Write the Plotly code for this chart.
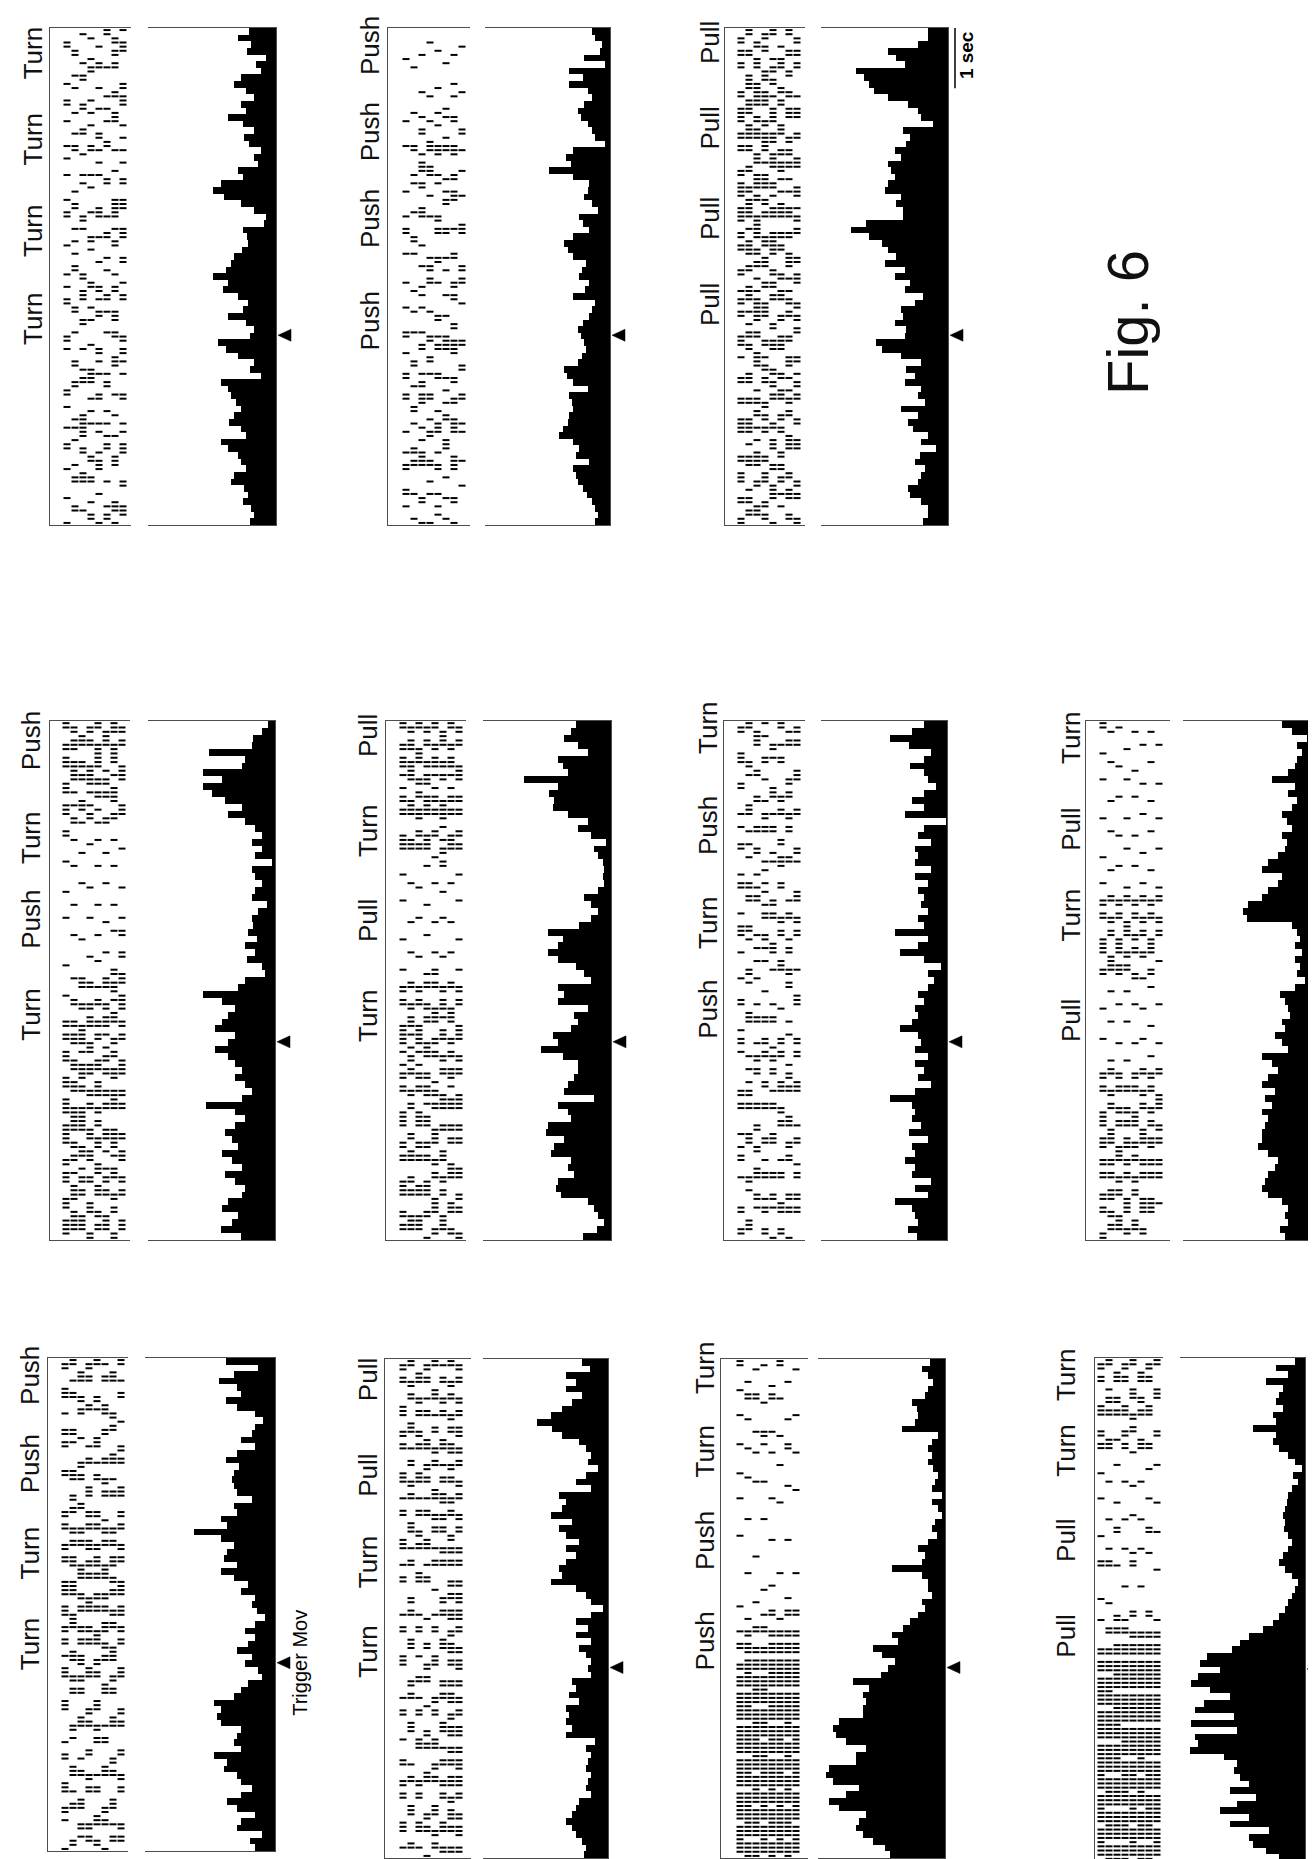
import plotly.graph_objects as go

# ---------------------------------------------------------------- data
# Time axis (s), movement trigger at 0.  Histograms: 75 bins of 0.11 s.
# Every series is listed from the END of the epoch (top of the page) back to its start.
T_START, T_END = -3.15, 5.10
TRIGGER_T = 0.0
HIST_BIN = 0.11
RASTER_BINS = 120          # each hex digit = 4 raster bins (MSB first)

HIST_A = [27,38,25,29,10,20,15,35,42,30, 22,35,30,48,33,22,32,27,15,22, 18,38,33,55,63,52,35,22,10,12,
          33,29,28,34,42,45,50,63,48,53, 38,28,33,48,30,22,26,58,50,38, 22,26,15,55,48,45,40,35,42,47,
          35,30,55,48,38,35,30,42,45,32, 28,33,25,22,26]
HIST_B = [18,15,8,10,27,5,42,28,42,23, 18,27,33,30,23,18,15,5,38,45, 40,62,38,22,23,27,18,12,32,28,
          22,38,47,43,38,25,29,32,22,26, 38,15,18,21,28,33,30,27,25,29, 33,47,44,38,23,42,39,38,42,43,
          48,52,38,32,35,22,38,35,33,28, 24,18,15,12,15]
HIST_C = [20,20,30,60,52,43,93,85,80,75, 60,40,30,27,15,45,38,42,53,47, 60,57,53,60,63,47,52,45,45,83,
          98,80,67,60,52,63,43,53,38,43, 25,33,47,45,53,42,43,73,67,47, 27,42,33,43,27,30,23,47,30,40,
          35,20,27,12,28,33,23,27,30,40, 38,27,20,20,25]
HIST_D = [7,13,22,23,67,30,33,73,53,73, 63,50,33,47,30,20,13,23,13,20, 3,23,20,13,20,23,8,17,23,22,
          27,18,30,20,28,13,10,30,37,73, 53,40,47,53,60,40,47,60,47,40, 33,40,30,23,33,70,40,30,40,50,
          43,37,53,43,33,50,40,30,33,47, 53,37,43,54,34]
HIST_E = [35,40,47,33,23,53,48,43,87,53, 62,57,58,43,23,33,20,5,17,13, 8,7,8,7,13,27,20,13,20,32,
          63,48,53,63,53,35,27,20,53,47, 53,23,37,33,40,58,53,70,48,33, 33,37,43,47,17,53,43,40,63,65,
          47,57,60,40,43,37,53,55,50,23, 17,13,7,14,28]
HIST_F = [23,36,58,39,16,23,38,23,19,11, 23,36,23,43,1,23,29,16,33,29, 33,16,33,19,29,23,26,19,29,23,
          53,19,29,48,23,6,19,13,19,29, 23,33,29,36,48,29,26,33,19,33, 23,29,16,33,58,36,33,36,26,39,
          19,36,33,43,33,36,16,33,19,53, 36,33,29,40,30]
HIST_G = [28,18,3,13,8,13,15,22,38,15, 22,13,18,28,23,18,28,23,25,32, 42,48,28,32,42,48,62,68,63,18,
          13,10,15,8,15,10,13,5,15,30, 25,22,20,28,25,35,28,22,48,38, 32,42,48,35,45,38,48,42,45,48,
          48,52,42,32,35,42,45,48,42,28, 22,25,22,30,25]
HIST_H = [48,17,40,55,37,33,48,37,20,12, 20,23,33,20,37,48,35,40,42,40, 37,23,40,37,53,47,80,53,40,47,
          50,37,53,40,27,33,20,23,18,10, 20,30,20,27,37,23,30,17,13,27, 33,40,60,53,57,53,33,37,40,33,
          60,47,50,37,33,23,33,47,37,20, 33,37,13,25,20]
HIST_I = [27,18,43,33,43,27,37,47,58,73, 57,47,30,23,17,20,10,23,33,17, 50,43,47,58,37,50,43,30,43,33,
          43,50,47,58,33,23,17,5,17,33, 20,33,17,30,23,17,20,17,37,33, 40,30,43,40,43,37,43,13,23,17,
          20,23,17,20,23,17,30,33,37,43, 37,33,27,23,25]
HIST_J = [15,23,17,12,17,20,33,28,27,30, 43,7,13,17,13,17,12,7,10,13, 3,13,7,3,10,13,8,17,27,20,
          23,53,23,17,17,13,23,20,27,35, 42,53,47,73,63,50,57,65,93,77, 83,80,83,83,107,113,110,100,80,90,
          90,117,120,113,87,100,117,107,80,87, 90,83,73,60,55]
HIST_K = [10,30,17,40,23,27,30,23,33,30, 53,30,33,27,17,10,3,12,7,13, 17,18,20,23,20,22,17,13,17,23,
          27,20,13,7,10,13,17,20,27,33, 43,57,67,75,100,108,87,110,117,97, 77,103,113,73,117,70,113,110,118,83,
          70,73,67,57,77,50,70,87,57,77, 37,57,53,40,27]

# Rasters: one string per trial (8 trials), hex-coded spike occupancy of 120 time bins.
RASTER_A = ["18046 20910 4c081 26034 01908 c2041", "06120 84c01 30926 01840 c6029 04c18",
            "40983 0c214 06801 9c304 2c07e 61c08", "21604 90c12 08340 61208 3c490 18c26",
            "08c21 06490 1c208 34c06 90c14 2e081", "c0409 2180c 04612 0c840 16092 c0416",
            "36c18 e0420 7c981 30e61 c0842 1c039", "9c06e 1248c 70e18 4c036 90c14 e061c"]
RASTER_B = ["01000 20801 04c20 41062 18c04 26190", "00400 80c14 08320 10840 c2190 6c082",
            "02010 4c2e6 1c084 2904c 16e09 3c061", "10008 21c70 84016 c0831 90c26 0c481",
            "04020 90e14 06c18 4062c 1809c 26094", "00801 42c09 60c12 0843c 09261 c0842",
            "02048 60e19 c0830 6c19e 0c63c 1e061", "08010 0c420 81c06 c2018 60c14 08200"]
RASTER_C = ["36c19 e6c37 9e6c3 16c39 0c63c 19c63", "c61e7 9ec63 7c9e6 3c96c 1c63c 9c16c",
            "19c7e 6e39e c7e6c 97e63 c16c9 3c61c", "6c39e 37c9e 6c39c 63c19 6c36c 19c36",
            "c16c9 e73c6 9c7e3 6c19c 36c19 c63c1", "09c36 1c6e9 3c6c1 9c63c 19c6c 36c90",
            "c6319 c36c9 1c63c 96c31 c96c3 c19c6", "36c09 c61c3 96c19 c36c1 96c31 c06c3"]
RASTER_D = ["c6e39 c6081 04008 106ce 39e7c 6e39e", "6e7c9 31040 20401 0c6e3 9c7e6 c9e7c",
            "1c6c3 90204 00201 c63e9 ec7e3 96c3c", "6c3e9 60802 04020 c6e39 c6c39 c61c3",
            "c7e6c 91040 20410 4c6c3 9e6ce 39c6c", "3c16c 30204 02041 c6e96 c6c39 16c3c",
            "e7c9e 61040 20806 e9c6c e7c3e 9c6c3", "6c3c1 c0402 04c63 9e6c3 c6c19 c6c1c"]
RASTER_E = ["c6e96 c3c10 40204 6c3e9 6c3c6 c3c6c", "6e7c3 c1c04 02040 c6e96 c6c19 c6c3c",
            "c3c6c e6c02 04020 6c3e9 6c3c6 c1c3c", "6c6e7 c3c40 20402 c6c3c 6e9c6 c3c61",
            "c6e96 c6104 02046 c3c6c 16c3c 6c3c6", "3c6c3 e96c1 04020 6e9c6 c3c61 c6c3c",
            "c6e96 c3c04 02040 c3c6c e9c6c 3c1c6", "6c3c6 c6c10 40204 6c3c6 c3c6c 1c6c3"]
RASTER_F = ["61c30 48c16 09c41 0c168 06c12 c40c6", "c0681 c4906 c1a06 81c04 96c1c 0681c",
            "3c186 0c612 c0491 04c26 c0c63 1c680", "90c42 6c0a5 2c690 20c6c 18c0c 4c2c6",
            "0681c 4c280 6c1c4 04c16 c4c1c 0c681", "c4c06 c19c6 06c1c 0206c 1c6c0 4c1c6",
            "2c06c 6c180 4c2c6 c0481 6c1c6 c06c1", "6c1c0 c0681 c6c04 1c06c 1c04c 2c6c0"]
RASTER_G = ["c1040 20104 6c3c6 02040 6c3ce 6c6c3", "20402 04020 c6c3c 20402 c6c3c 6ce6c",
            "40204 02040 6c3ce 04020 6c6c3 c6c3c", "02040 20402 c3c6c 20402 0c6ce 6c3c6",
            "20104 02040 6c6c3 04020 6c3c6 c6c1c", "04020 40204 c6c61 02040 c6c3c 6c3c6",
            "20402 04020 6c3c6 40204 6c6ce 6c3c0", "04020 20402 c6c10 04020 c3c6c 6c100"]
RASTER_H = ["61c46 c1806 c6c3c e6c9c 1c04c 1c681", "c4c06 81c6c 6ce3c 3c1c6 c0681 c4c06",
            "1c6c1 06c18 6c3c6 c6ce6 c1c04 c1c68", "6c180 4c1c6 ce6c3 c6c1c 06c18 6c06c",
            "c0681 c4c06 c6ec6 c3c6c 1c6c0 4c1c6", "4c1c6 0c6c1 6c3c6 ce6c1 c04c1 c06c1",
            "1c06c 1c4c0 6ce6c 6c3c6 c1c06 c1c4c", "c4c10 6c1c6 c6c3c e6c1c 06c18 6c06c"]
RASTER_I = ["6c1c6 c1c4c 1c4c0 4c1c0 4c10c 6c1c4", "c6c1c 4c6c1 c4c06 c1c06 c1c04 c1c0c",
            "1c6c6 c1c4c 6c1c0 4c10c 4c1c0 6c1c4", "6c4c1 c6c4c 1c4c0 20c6c 106c1 c06c1",
            "c1c4c 6c1c6 c4c10 4c1c0 6c1c6 c1c6c", "4c6c1 c4ce6 c6c06 c1c06 c1c4c 6c1c6",
            "c6c6c e6c6c 36c6c e6ec6 e6e6c e6ec6", "6c6ce 6c6c6 c6c6e ec6e6 6ce6e ec6e6"]
RASTER_J = ["c1040 81040 20001 04c6e fefef efefe", "04c20 40802 00100 26efe fefef effef",
            "20c04 20400 01002 0c6ef efffe fefef", "40206 80402 00010 4c6ef efeff efefe",
            "02c04 20040 10020 c6efe fefef fefef", "c0402 04020 00100 26efe fefef efffe",
            "04020 c0200 10004 c6efe ffefe fefef", "20040 20100 00100 c6efe fefef efefe"]
RASTER_K = ["6c1c6 c1040 20c04 206ef efeff efefe", "c16c1 c0402 04c02 0c6ef efefe fefef",
            "1c6c1 04020 c0400 6cefe ffefe fefef", "6c1c6 c0402 04020 2cefe fefef fefef",
            "c1c6c 20204 02c00 c6efe fefef efefe", "1c6c1 c0402 04020 06efe feffe fefef",
            "6c1c0 c2040 c2000 c6efe fefef effef", "c1c06 04020 40200 26efe fefef efefe"]

# Movement sequences (names) and their times (s), early -> late
MOVES_A = ["Turn", "Turn", "Turn", "Turn"];  MOVE_T_A = [0.27, 1.73, 3.25, 4.68]
MOVES_B = ["Push", "Push", "Push", "Push"];  MOVE_T_B = [0.23, 1.93, 3.37, 4.80]
MOVES_C = ["Pull", "Pull", "Pull", "Pull"];  MOVE_T_C = [0.50, 1.93, 3.43, 4.85]
MOVES_D = ["Turn", "Push", "Turn", "Push"];  MOVE_T_D = [0.43, 1.94, 3.24, 4.78]
MOVES_E = ["Turn", "Pull", "Turn", "Pull"];  MOVE_T_E = [0.41, 1.92, 3.35, 4.86]
MOVES_F = ["Push", "Turn", "Push", "Turn"];  MOVE_T_F = [0.51, 1.89, 3.43, 4.99]
MOVES_G = ["Pull", "Turn", "Pull", "Turn"];  MOVE_T_G = [0.33, 2.01, 3.37, 4.83]
MOVES_H = ["Turn", "Turn", "Push", "Push"];  MOVE_T_H = [0.31, 1.83, 3.32, 4.80]
MOVES_I = ["Turn", "Turn", "Pull", "Pull"];  MOVE_T_I = [0.26, 1.74, 3.17, 4.75]
MOVES_J = ["Push", "Push", "Turn", "Turn"];  MOVE_T_J = [0.43, 2.09, 3.57, 4.95]
MOVES_K = ["Pull", "Pull", "Turn", "Turn"];  MOVE_T_K = [0.53, 2.10, 3.58, 4.82]

SCALE_BAR_S = 1.0     # "1 sec" bar

# ---------------------------------------------------------------- page layout (pixels)
W, H = 1316, 1859
PANELS = [
    dict(hist=HIST_A, raster=RASTER_A, moves=MOVES_A, mt=MOVE_T_A, rx=(42, 123),   hx=(140, 268),  y=(20, 517),   lx=25,   L=17),
    dict(hist=HIST_B, raster=RASTER_B, moves=MOVES_B, mt=MOVE_T_B, rx=(380, 462),  hx=(477, 602),  y=(20, 517),   lx=362,  L=18),
    dict(hist=HIST_C, raster=RASTER_C, moves=MOVES_C, mt=MOVE_T_C, rx=(717, 797),  hx=(813, 940),  y=(20, 517),   lx=702,  L=16),
    dict(hist=HIST_D, raster=RASTER_D, moves=MOVES_D, mt=MOVE_T_D, rx=(42, 122),   hx=(140, 267),  y=(713, 1232), lx=23,   L=16),
    dict(hist=HIST_E, raster=RASTER_E, moves=MOVES_E, mt=MOVE_T_E, rx=(378, 458),  hx=(475, 603),  y=(713, 1232), lx=360,  L=17),
    dict(hist=HIST_F, raster=RASTER_F, moves=MOVES_F, mt=MOVE_T_F, rx=(716, 797),  hx=(813, 939),  y=(713, 1232), lx=700,  L=17),
    dict(hist=HIST_G, raster=RASTER_G, moves=MOVES_G, mt=MOVE_T_G, rx=(1078, 1162), hx=(1175, 1302), y=(713, 1232), lx=1063, L=17),
    dict(hist=HIST_H, raster=RASTER_H, moves=MOVES_H, mt=MOVE_T_H, rx=(40, 120),   hx=(137, 267),  y=(1350, 1843), lx=22,  L=17),
    dict(hist=HIST_I, raster=RASTER_I, moves=MOVES_I, mt=MOVE_T_I, rx=(377, 463),  hx=(475, 600),  y=(1351, 1850), lx=360, L=18),
    dict(hist=HIST_J, raster=RASTER_J, moves=MOVES_J, mt=MOVE_T_J, rx=(713, 800),  hx=(810, 937),  y=(1351, 1850), lx=697, L=19),
    dict(hist=HIST_K, raster=RASTER_K, moves=MOVES_K, mt=MOVE_T_K, rx=(1087, 1155), hx=(1172, 1297), y=(1350, 1853), lx=1058, L=6),
]
TRIAL_PITCH = 8.0      # px between trials
HIST_MAX = 128         # histogram axis full scale
SIDE_PX = 40           # width of the strip right of each histogram (marker / label area)
ARROW_PX = (2, 15, 6)  # arrowhead: tip, base (px right of baseline), half height (px)
FONT = "Liberation Sans, Arial, Helvetica, sans-serif"
LINE_C = "#4d4d4d"


def decode(trials):
    dt = (T_END - T_START) / RASTER_BINS
    xs, ys = [], []
    for k, s in enumerate(trials):
        s = s.replace(" ", "")
        for j, ch in enumerate(s):
            v = int(ch, 16)
            for b in range(4):
                if v & (8 >> b):
                    xs.append(k + 1)
                    ys.append(T_END - (4 * j + b + 0.5) * dt)
    return xs, ys


def ax_name(kind, i):
    return f"{kind}axis" if i == 1 else f"{kind}axis{i}"


def ref(kind, i):
    return kind if i == 1 else f"{kind}{i}"


fig = go.Figure()
layout = dict(width=W, height=H, margin=dict(l=0, r=0, t=0, b=0),
              paper_bgcolor="white", plot_bgcolor="rgba(0,0,0,0)",
              showlegend=False, hovermode=False, bargap=0)
annotations = []
base_axis = dict(showgrid=False, zeroline=False, showticklabels=False, ticks="",
                 linecolor=LINE_C, linewidth=1.2, fixedrange=True)
NP = len(PANELS)
side_axis = {}

for n, p in enumerate(PANELS):
    ri, hi, si = 2 * n + 1, 2 * n + 2, 2 * NP + n + 1
    side_axis[n] = (si, hi)
    y0, y1 = p["y"]
    ydom = [1 - y1 / H, 1 - y0 / H]
    rx0, rx1 = p["rx"]
    hx0, hx1 = p["hx"]
    sec_per_px = (T_END - T_START) / (y1 - y0)

    # raster
    xs, ys = decode(p["raster"])
    fig.add_trace(go.Scatter(x=xs, y=ys, xaxis=ref("x", ri), yaxis=ref("y", ri), mode="markers",
                             marker=dict(symbol="line-ew", size=5, color="black",
                                         line=dict(width=2, color="black")),
                             hoverinfo="skip"))
    left = 1 - p["L"] / TRIAL_PITCH
    layout[ax_name("x", ri)] = dict(base_axis, domain=[rx0 / W, rx1 / W], anchor=ref("y", ri),
                                    range=[left, left + (rx1 - rx0) / TRIAL_PITCH],
                                    showline=True, mirror=True)
    layout[ax_name("y", ri)] = dict(base_axis, domain=ydom, anchor=ref("x", ri),
                                    range=[T_START, T_END], showline=True, mirror=False)

    # histogram (bars grow leftwards from the right baseline)
    hist = p["hist"]
    yc = [T_END - (i + 0.5) * HIST_BIN for i in range(len(hist))]
    fig.add_trace(go.Bar(x=hist, y=yc, orientation="h", width=HIST_BIN,
                         xaxis=ref("x", hi), yaxis=ref("y", hi),
                         marker=dict(color="black", line=dict(width=0)), hoverinfo="skip"))
    layout[ax_name("x", hi)] = dict(base_axis, domain=[hx0 / W, hx1 / W], anchor=ref("y", hi),
                                    range=[HIST_MAX, 0], showline=True, mirror=True)
    layout[ax_name("y", hi)] = dict(base_axis, domain=ydom, anchor=ref("x", hi), side="right",
                                    range=[T_START, T_END], showline=True, mirror=False)

    # strip to the right of the histogram baseline (px units), shares the time axis
    side_w = min(SIDE_PX, W - hx1)
    layout[ax_name("x", si)] = dict(base_axis, domain=[hx1 / W, (hx1 + side_w) / W],
                                    anchor=ref("y", hi), range=[0, side_w], visible=False)
    # trigger arrowhead at the trigger time
    tip, base, half = ARROW_PX
    dy = half * sec_per_px
    fig.add_trace(go.Scatter(x=[tip, base, base, tip], y=[TRIGGER_T, TRIGGER_T + dy, TRIGGER_T - dy, TRIGGER_T],
                             xaxis=ref("x", si), yaxis=ref("y", hi), mode="lines", fill="toself",
                             fillcolor="black", line=dict(width=0.5, color="black"),
                             cliponaxis=False, hoverinfo="skip"))

    # movement labels
    for name, t in zip(p["moves"], p["mt"]):
        annotations.append(dict(text=name, x=p["lx"] / W, xref="paper", y=t, yref=ref("y", ri),
                                textangle=-90, showarrow=False, xanchor="center", yanchor="middle",
                                font=dict(family=FONT, size=26, color="#111111")))

# 1 sec scale bar next to panel C histogram
si, hi = side_axis[2]
fig.add_trace(go.Scatter(x=[7, 7], y=[T_END, T_END - SCALE_BAR_S], xaxis=ref("x", si), yaxis=ref("y", hi),
                         mode="lines", line=dict(color="black", width=1.5), cliponaxis=False,
                         hoverinfo="skip"))
annotations.append(dict(text="<b>1 sec</b>", x=18, xref=ref("x", si), y=T_END - 0.45, yref=ref("y", hi),
                        textangle=-90, showarrow=False, xanchor="center", yanchor="middle",
                        font=dict(family=FONT, size=19, color="black")))

# trigger label under the first bottom-row panel
si, hi = side_axis[7]
annotations.append(dict(text="Trigger Mov", x=25, xref=ref("x", si), y=TRIGGER_T, yref=ref("y", hi),
                        textangle=-90, showarrow=False, xanchor="center", yanchor="middle",
                        font=dict(family=FONT, size=20, color="black")))

# figure caption
annotations.append(dict(text="Fig. 6", x=1120 / W, xref="paper", y=1 - 315 / H, yref="paper",
                        textangle=-90, showarrow=False, xanchor="center", yanchor="middle",
                        font=dict(family=FONT, size=58, color="#111111")))

layout["annotations"] = annotations
fig.update_layout(**layout)
fig.write_html("out.html")
